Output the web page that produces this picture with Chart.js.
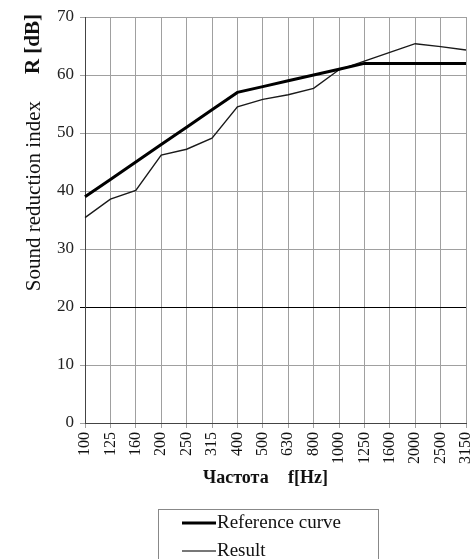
<!DOCTYPE html>
<html>
<head>
<meta charset="utf-8">
<script src="https://cdn.jsdelivr.net/npm/chart.js@4.4.1/dist/chart.umd.min.js"></script>
<style>
  html, body { margin: 0; padding: 0; background: #fff; }
  #wrap { width: 473px; height: 559px; }
</style>
</head>
<body>
<div id="wrap"><canvas id="soundChart" width="473" height="559"></canvas></div>
<script>
const frequencies = ["100", "125", "160", "200", "250", "315", "400", "500", "630", "800",
                     "1000", "1250", "1600", "2000", "2500", "3150"];
const referenceCurve = [39, 42, 45, 48, 51, 54, 57, 58, 59, 60, 61, 62, 62, 62, 62, 62];
const resultValues = [35.4, 38.6, 40.1, 46.2, 47.2, 49.1, 54.5, 55.8, 56.6, 57.7,
                      60.9, 62.4, 63.9, 65.4, 64.9, 64.3];
const yTicks = [0, 10, 20, 30, 40, 50, 60, 70];

const serif = "'Liberation Serif', 'DejaVu Serif', serif";

// titles with mixed weight + boxed legend
const extras = {
    id: "extras",
    afterDraw(chart) {
        const c = chart.ctx;
        c.save();
        c.fillStyle = "#111";
        c.textBaseline = "middle";

        // x title
        c.font = "bold 18px " + serif;
        c.textAlign = "left";
        c.fillText("Частота", 203, 478);
        c.fillText("f[Hz]", 288, 478);

        // y title (rotated)
        c.save();
        c.translate(34, 0);
        c.rotate(-Math.PI / 2);
        c.font = "21px " + serif;
        c.textAlign = "right";
        c.fillText("Sound reduction index", -101, 0);
        c.font = "bold 21px " + serif;
        c.fillText("R [dB]", -14, 0);
        c.restore();

        // legend
        c.strokeStyle = "#888";
        c.lineWidth = 1;
        c.strokeRect(158.5, 509.5, 220, 70);
        const items = [
            { text: "Reference curve", ds: chart.data.datasets[0], y: 523 },
            { text: "Result", ds: chart.data.datasets[1], y: 551 }
        ];
        c.font = "19px " + serif;
        c.textAlign = "left";
        items.forEach(it => {
            c.strokeStyle = it.ds.legendColor;
            c.lineWidth = it.ds.legendWidth;
            c.beginPath();
            c.moveTo(182, it.y);
            c.lineTo(216, it.y);
            c.stroke();
            c.fillStyle = "#111";
            c.fillText(it.text, 217, it.y);
        });
        c.restore();
    }
};

new Chart(document.getElementById("soundChart").getContext("2d"), {
    type: "line",
    data: {
        labels: frequencies,
        datasets: [{
            label: "Reference curve",
            data: referenceCurve,
            borderColor: "#000",
            borderWidth: 3,
            legendColor: "#000",
            legendWidth: 3,
            pointRadius: 0,
            tension: 0
        }, {
            label: "Result",
            data: resultValues,
            borderColor: "#1a1a1a",
            borderWidth: 1.4,
            legendColor: "#777",
            legendWidth: 2,
            pointRadius: 0,
            tension: 0
        }]
    },
    options: {
        responsive: false,
        animation: false,
        layout: { padding: { top: 17, right: 7, left: 0, bottom: 0 } },
        plugins: {
            legend: { display: false },
            tooltip: { enabled: false }
        },
        scales: {
            x: {
                offset: false,
                afterFit: s => { s.height = 136; s.paddingRight = 0; s.paddingLeft = 0; },
                grid: {
                    color: "#a0a0a0",
                    lineWidth: 1,
                    tickLength: 5,
                    drawTicks: true
                },
                border: { color: "#444", width: 1 },
                ticks: {
                    minRotation: 90,
                    maxRotation: 90,
                    autoSkip: false,
                    padding: 4,
                    color: "#111",
                    font: { family: serif, size: 16 }
                }
            },
            y: {
                min: 0,
                max: 70,
                afterFit: s => { s.width = 85; },
                afterBuildTicks: s => { s.ticks = yTicks.map(v => ({ value: v })); },
                grid: {
                    color: ctx => ctx.tick && ctx.tick.value === 20 ? "#000" : "#a0a0a0",
                    lineWidth: 1,
                    tickLength: 5
                },
                border: { color: "#444", width: 1 },
                ticks: {
                    padding: 6,
                    color: "#222",
                    font: { family: serif, size: 17 }
                }
            }
        }
    },
    plugins: [extras]
});
</script>
</body>
</html>
